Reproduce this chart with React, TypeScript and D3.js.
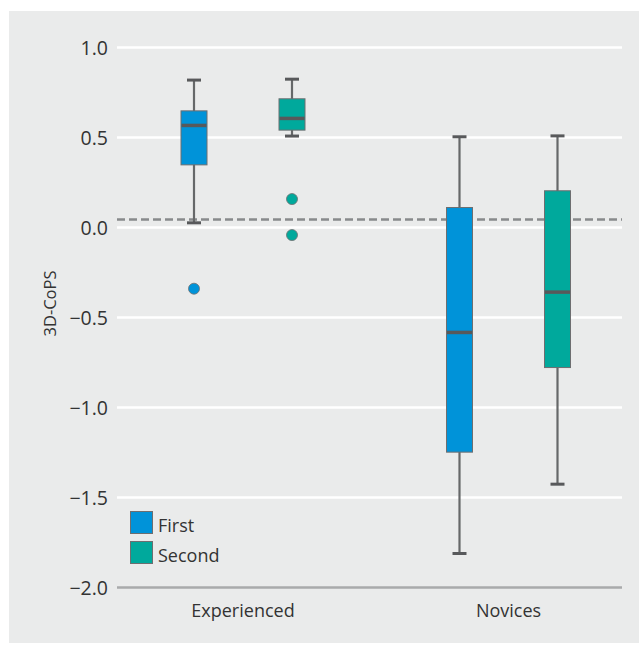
import React, { useEffect, useRef } from "react";
import * as d3 from "d3";

// box stats per series, in group order: [lower whisker, Q1, median, Q3, upper whisker]
const groups = ["Experienced", "Novices"];
const seriesNames = ["First", "Second"];
const seriesColors = ["#0093d9", "#00a99c"];
const firstStats = [
  [0.026, 0.348, 0.567, 0.648, 0.819],
  [-1.811, -1.248, -0.583, 0.111, 0.504],
];
const secondStats = [
  [0.508, 0.541, 0.606, 0.715, 0.824],
  [-1.426, -0.778, -0.359, 0.204, 0.509],
];
const firstOutliers = [[-0.34], []];
const secondOutliers = [[0.158, -0.042], []];
const referenceValue = 0.045;
const yTicks = [1.0, 0.5, 0.0, -0.5, -1.0, -1.5, -2.0];
const yLabel = "3D-CoPS";

const FONT = "'Open Sans', sans-serif";

export default function App() {
  const svgRef = useRef<SVGSVGElement>(null);

  useEffect(() => {
    const width = 639;
    const height = 645;
    const svg = d3.select(svgRef.current).attr("width", width).attr("height", height);
    svg.selectAll("*").remove();

    const plotLeft = 117;
    const plotRight = 622;

    const y = d3.scaleLinear().domain([-2, 1]).range([587.5, 47.5]);
    const x = d3.scalePoint<string>().domain(groups).range([243, 508.5]);
    const dodge = d3.scalePoint<string>().domain(seriesNames).range([-49, 49]);
    const boxWidth = 26;
    const capWidth = 14;

    // panel background
    svg.append("rect")
      .attr("x", 9).attr("y", 11)
      .attr("width", width - 9).attr("height", 632)
      .attr("fill", "#eaebeb");

    // grid lines
    svg.append("g")
      .selectAll("line")
      .data(yTicks)
      .enter().append("line")
      .attr("x1", plotLeft).attr("x2", plotRight)
      .attr("y1", d => y(d)).attr("y2", d => y(d))
      .attr("stroke", d => (d === -2 ? "#a9aaab" : "#ffffff"))
      .attr("stroke-width", 2.5);

    // tick labels
    svg.append("g")
      .selectAll("text")
      .data(yTicks)
      .enter().append("text")
      .attr("x", 108)
      .attr("y", d => y(d))
      .attr("dy", "0.36em")
      .attr("text-anchor", "end")
      .attr("font-family", FONT)
      .attr("font-size", 19.5)
      .attr("fill", "#333")
      .text(d => d3.format(".1f")(d));

    svg.append("text")
      .attr("transform", `translate(56, ${(y(1) + y(-2)) / 2 - 14}) rotate(-90)`)
      .attr("text-anchor", "middle")
      .attr("font-family", FONT)
      .attr("font-size", 16.5)
      .attr("fill", "#333")
      .text(yLabel);

    // group labels
    svg.append("g")
      .selectAll("text")
      .data(groups)
      .enter().append("text")
      .attr("x", d => x(d)!)
      .attr("y", 616.5)
      .attr("text-anchor", "middle")
      .attr("font-family", FONT)
      .attr("font-size", 18)
      .attr("fill", "#333")
      .text(d => d);

    // reference line
    svg.append("line")
      .attr("x1", plotLeft).attr("x2", plotRight)
      .attr("y1", y(referenceValue)).attr("y2", y(referenceValue))
      .attr("stroke", "#888a8c")
      .attr("stroke-width", 2.5)
      .attr("stroke-dasharray", "8,4");

    const allStats = [firstStats, secondStats];
    const allOutliers = [firstOutliers, secondOutliers];

    seriesNames.forEach((s, si) => {
      const g = svg.append("g");
      const boxes = groups.map((grp, gi) => ({ grp, stats: allStats[si][gi], outliers: allOutliers[si][gi] }));
      const cx = (d: { grp: string }) => x(d.grp)! + dodge(s)!;

      g.selectAll(".whisker")
        .data(boxes)
        .enter().append("line")
        .attr("x1", cx).attr("x2", cx)
        .attr("y1", d => y(d.stats[0])).attr("y2", d => y(d.stats[4]))
        .attr("stroke", "#666869")
        .attr("stroke-width", 2.2);

      g.selectAll(".cap")
        .data(boxes.flatMap(b => [{ grp: b.grp, v: b.stats[0] }, { grp: b.grp, v: b.stats[4] }]))
        .enter().append("line")
        .attr("x1", d => cx(d) - capWidth / 2).attr("x2", d => cx(d) + capWidth / 2)
        .attr("y1", d => y(d.v)).attr("y2", d => y(d.v))
        .attr("stroke", "#58595b")
        .attr("stroke-width", 3);

      g.selectAll(".box")
        .data(boxes)
        .enter().append("rect")
        .attr("x", d => cx(d) - boxWidth / 2)
        .attr("y", d => y(d.stats[3]))
        .attr("width", boxWidth)
        .attr("height", d => y(d.stats[1]) - y(d.stats[3]))
        .attr("fill", seriesColors[si])
        .attr("stroke", "#6d6e70")
        .attr("stroke-width", 1);

      g.selectAll(".median")
        .data(boxes)
        .enter().append("line")
        .attr("x1", d => cx(d) - boxWidth / 2 + 0.5).attr("x2", d => cx(d) + boxWidth / 2 - 0.5)
        .attr("y1", d => y(d.stats[2])).attr("y2", d => y(d.stats[2]))
        .attr("stroke", "#58595b")
        .attr("stroke-width", 3.5);

      g.selectAll(".outlier")
        .data(boxes.flatMap(b => b.outliers.map(v => ({ grp: b.grp, v }))))
        .enter().append("circle")
        .attr("cx", cx)
        .attr("cy", d => y(d.v))
        .attr("r", 5.5)
        .attr("fill", seriesColors[si])
        .attr("stroke", "#6d6e70")
        .attr("stroke-width", 0.8);
    });

    // legend
    const legend = svg.append("g").attr("transform", "translate(130, 511)");
    const item = legend.selectAll("g")
      .data(seriesNames)
      .enter().append("g")
      .attr("transform", (d, i) => `translate(0, ${i * 30})`);
    item.append("rect")
      .attr("x", 0.5).attr("y", 0.5)
      .attr("width", 22).attr("height", 22)
      .attr("fill", (d, i) => seriesColors[i])
      .attr("stroke", "#6d6e70")
      .attr("stroke-width", 1);
    item.append("text")
      .attr("x", 28)
      .attr("y", 20.5)
      .attr("font-family", FONT)
      .attr("font-size", 18)
      .attr("fill", "#333")
      .text(d => d);
  }, []);

  return (
    <svg ref={svgRef} style={{ position: "absolute", left: 0, top: 0, background: "#fff" }}></svg>
  );
}
